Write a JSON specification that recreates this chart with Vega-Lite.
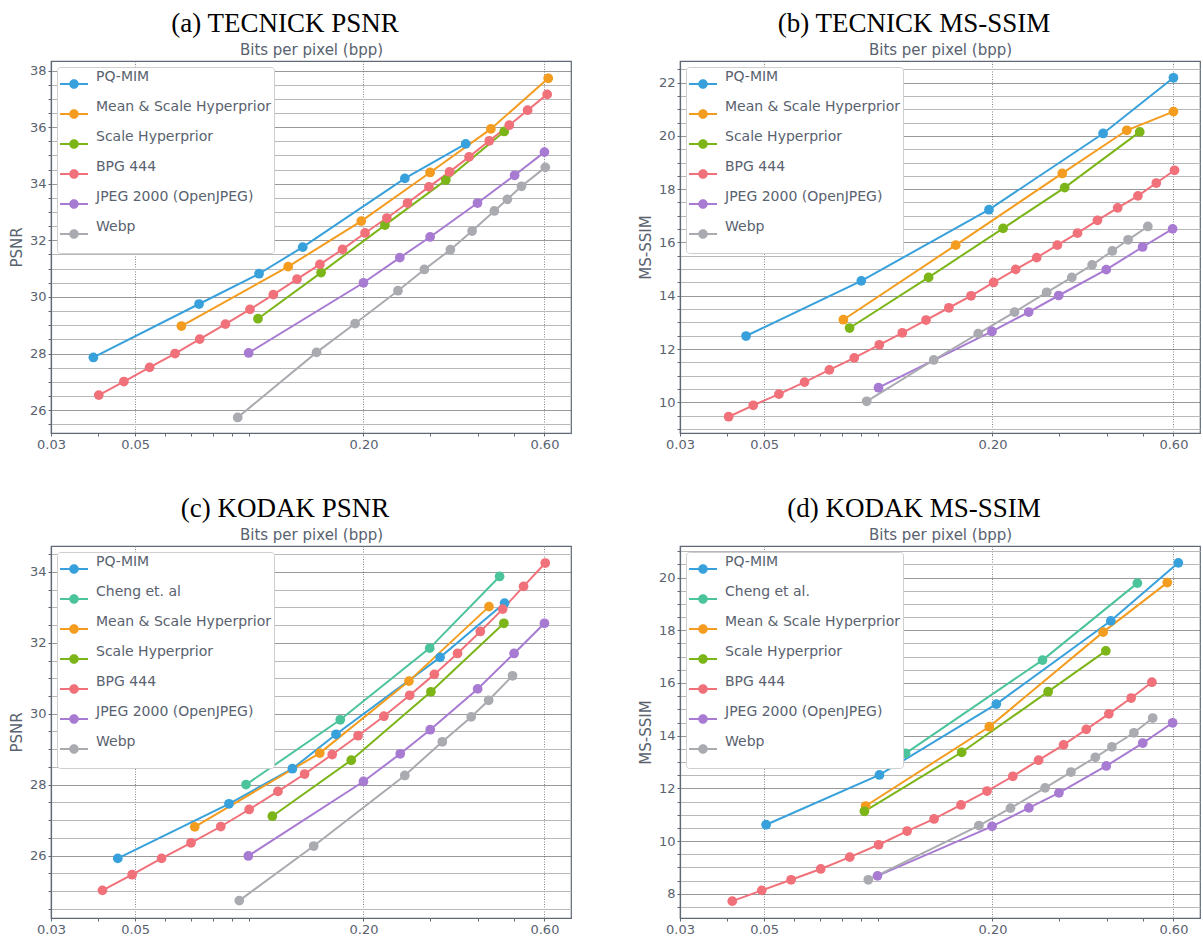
{
"$schema": "https://vega.github.io/schema/vega-lite/v6.json",
"background": "white",
"padding": {"left": 8, "top": 9, "right": 0, "bottom": 0},
"bounds": "flush",
"columns": 2,
"spacing": {"row": 113, "column": 109},
"resolve": {"scale": {"color": "independent"}, "legend": {"color": "independent"}},
"datasets": {
"a": [
{"method":"PQ-MIM","bpp":0.0388,"score":27.86},{"method":"PQ-MIM","bpp":0.0737,"score":29.75},{"method":"PQ-MIM","bpp":0.1061,"score":30.82},{"method":"PQ-MIM","bpp":0.1383,"score":31.76},{"method":"PQ-MIM","bpp":0.2571,"score":34.19},{"method":"PQ-MIM","bpp":0.372,"score":35.41},
{"method":"Mean & Scale Hyperprior","bpp":0.0662,"score":28.97},{"method":"Mean & Scale Hyperprior","bpp":0.1266,"score":31.07},{"method":"Mean & Scale Hyperprior","bpp":0.1973,"score":32.68},{"method":"Mean & Scale Hyperprior","bpp":0.2997,"score":34.40},{"method":"Mean & Scale Hyperprior","bpp":0.4335,"score":35.94},{"method":"Mean & Scale Hyperprior","bpp":0.614,"score":37.73},
{"method":"Scale Hyperprior","bpp":0.1054,"score":29.23},{"method":"Scale Hyperprior","bpp":0.1546,"score":30.86},{"method":"Scale Hyperprior","bpp":0.2278,"score":32.54},{"method":"Scale Hyperprior","bpp":0.3297,"score":34.13},{"method":"Scale Hyperprior","bpp":0.470,"score":35.85},
{"method":"BPG 444","bpp":0.0401,"score":26.53},{"method":"BPG 444","bpp":0.0467,"score":27.01},{"method":"BPG 444","bpp":0.0546,"score":27.51},{"method":"BPG 444","bpp":0.0637,"score":28.00},{"method":"BPG 444","bpp":0.0740,"score":28.51},{"method":"BPG 444","bpp":0.0865,"score":29.04},{"method":"BPG 444","bpp":0.1004,"score":29.56},{"method":"BPG 444","bpp":0.1157,"score":30.08},{"method":"BPG 444","bpp":0.1336,"score":30.63},{"method":"BPG 444","bpp":0.1535,"score":31.15},{"method":"BPG 444","bpp":0.1761,"score":31.68},{"method":"BPG 444","bpp":0.2019,"score":32.26},{"method":"BPG 444","bpp":0.2305,"score":32.79},{"method":"BPG 444","bpp":0.2613,"score":33.32},{"method":"BPG 444","bpp":0.2976,"score":33.89},{"method":"BPG 444","bpp":0.3372,"score":34.42},{"method":"BPG 444","bpp":0.3797,"score":34.95},{"method":"BPG 444","bpp":0.4293,"score":35.52},{"method":"BPG 444","bpp":0.4845,"score":36.07},{"method":"BPG 444","bpp":0.5417,"score":36.60},{"method":"BPG 444","bpp":0.610,"score":37.16},
{"method":"JPEG 2000 (OpenJPEG)","bpp":0.0996,"score":28.02},{"method":"JPEG 2000 (OpenJPEG)","bpp":0.200,"score":30.50},{"method":"JPEG 2000 (OpenJPEG)","bpp":0.2494,"score":31.39},{"method":"JPEG 2000 (OpenJPEG)","bpp":0.2997,"score":32.12},{"method":"JPEG 2000 (OpenJPEG)","bpp":0.3996,"score":33.32},{"method":"JPEG 2000 (OpenJPEG)","bpp":0.5007,"score":34.30},{"method":"JPEG 2000 (OpenJPEG)","bpp":0.600,"score":35.12},
{"method":"Webp","bpp":0.0932,"score":25.74},{"method":"Webp","bpp":0.1504,"score":28.04},{"method":"Webp","bpp":0.1901,"score":29.06},{"method":"Webp","bpp":0.2466,"score":30.22},{"method":"Webp","bpp":0.2894,"score":30.97},{"method":"Webp","bpp":0.339,"score":31.67},{"method":"Webp","bpp":0.3867,"score":32.33},{"method":"Webp","bpp":0.4426,"score":33.04},{"method":"Webp","bpp":0.479,"score":33.45},{"method":"Webp","bpp":0.522,"score":33.91},{"method":"Webp","bpp":0.603,"score":34.58}
],
"b": [
{"method":"PQ-MIM","bpp":0.0448,"score":12.49},{"method":"PQ-MIM","bpp":0.0902,"score":14.56},{"method":"PQ-MIM","bpp":0.1958,"score":17.23},{"method":"PQ-MIM","bpp":0.3915,"score":20.09},{"method":"PQ-MIM","bpp":0.600,"score":22.18},
{"method":"Mean & Scale Hyperprior","bpp":0.0809,"score":13.10},{"method":"Mean & Scale Hyperprior","bpp":0.160,"score":15.90},{"method":"Mean & Scale Hyperprior","bpp":0.3055,"score":18.59},{"method":"Mean & Scale Hyperprior","bpp":0.452,"score":20.21},{"method":"Mean & Scale Hyperprior","bpp":0.600,"score":20.91},
{"method":"Scale Hyperprior","bpp":0.084,"score":12.79},{"method":"Scale Hyperprior","bpp":0.1357,"score":14.69},{"method":"Scale Hyperprior","bpp":0.2133,"score":16.53},{"method":"Scale Hyperprior","bpp":0.310,"score":18.06},{"method":"Scale Hyperprior","bpp":0.489,"score":20.15},
{"method":"BPG 444","bpp":0.0403,"score":9.46},{"method":"BPG 444","bpp":0.0468,"score":9.89},{"method":"BPG 444","bpp":0.0547,"score":10.31},{"method":"BPG 444","bpp":0.0639,"score":10.76},{"method":"BPG 444","bpp":0.0743,"score":11.22},{"method":"BPG 444","bpp":0.0864,"score":11.67},{"method":"BPG 444","bpp":0.1006,"score":12.16},{"method":"BPG 444","bpp":0.1157,"score":12.61},{"method":"BPG 444","bpp":0.1336,"score":13.09},{"method":"BPG 444","bpp":0.1535,"score":13.55},{"method":"BPG 444","bpp":0.1756,"score":14.0},{"method":"BPG 444","bpp":0.2013,"score":14.5},{"method":"BPG 444","bpp":0.2303,"score":14.99},{"method":"BPG 444","bpp":0.2616,"score":15.43},{"method":"BPG 444","bpp":0.2965,"score":15.9},{"method":"BPG 444","bpp":0.3351,"score":16.35},{"method":"BPG 444","bpp":0.3782,"score":16.83},{"method":"BPG 444","bpp":0.4277,"score":17.3},{"method":"BPG 444","bpp":0.4836,"score":17.75},{"method":"BPG 444","bpp":0.5407,"score":18.23},{"method":"BPG 444","bpp":0.604,"score":18.71},
{"method":"JPEG 2000 (OpenJPEG)","bpp":0.1001,"score":10.55},{"method":"JPEG 2000 (OpenJPEG)","bpp":0.1994,"score":12.66},{"method":"JPEG 2000 (OpenJPEG)","bpp":0.2492,"score":13.39},{"method":"JPEG 2000 (OpenJPEG)","bpp":0.299,"score":14.01},{"method":"JPEG 2000 (OpenJPEG)","bpp":0.399,"score":14.98},{"method":"JPEG 2000 (OpenJPEG)","bpp":0.4975,"score":15.83},{"method":"JPEG 2000 (OpenJPEG)","bpp":0.597,"score":16.51},
{"method":"Webp","bpp":0.0932,"score":10.04},{"method":"Webp","bpp":0.140,"score":11.59},{"method":"Webp","bpp":0.1834,"score":12.58},{"method":"Webp","bpp":0.2287,"score":13.39},{"method":"Webp","bpp":0.2779,"score":14.13},{"method":"Webp","bpp":0.3238,"score":14.69},{"method":"Webp","bpp":0.3663,"score":15.16},{"method":"Webp","bpp":0.414,"score":15.68},{"method":"Webp","bpp":0.4555,"score":16.1},{"method":"Webp","bpp":0.5136,"score":16.6}
],
"c": [
{"method":"PQ-MIM","bpp":0.045,"score":25.92},{"method":"PQ-MIM","bpp":0.0884,"score":27.46},{"method":"PQ-MIM","bpp":0.1299,"score":28.45},{"method":"PQ-MIM","bpp":0.1693,"score":29.42},{"method":"PQ-MIM","bpp":0.3184,"score":31.59},{"method":"PQ-MIM","bpp":0.471,"score":33.12},
{"method":"Cheng et. al","bpp":0.098,"score":28.0},{"method":"Cheng et. al","bpp":0.1737,"score":29.83},{"method":"Cheng et. al","bpp":0.299,"score":31.85},{"method":"Cheng et. al","bpp":0.457,"score":33.87},
{"method":"Mean & Scale Hyperprior","bpp":0.0718,"score":26.81},{"method":"Mean & Scale Hyperprior","bpp":0.1534,"score":28.89},{"method":"Mean & Scale Hyperprior","bpp":0.2636,"score":30.92},{"method":"Mean & Scale Hyperprior","bpp":0.4285,"score":33.02},
{"method":"Scale Hyperprior","bpp":0.115,"score":27.11},{"method":"Scale Hyperprior","bpp":0.1857,"score":28.69},{"method":"Scale Hyperprior","bpp":0.3012,"score":30.62},{"method":"Scale Hyperprior","bpp":0.469,"score":32.55},
{"method":"BPG 444","bpp":0.041,"score":25.02},{"method":"BPG 444","bpp":0.0491,"score":25.46},{"method":"BPG 444","bpp":0.0587,"score":25.92},{"method":"BPG 444","bpp":0.0702,"score":26.36},{"method":"BPG 444","bpp":0.0841,"score":26.82},{"method":"BPG 444","bpp":0.0999,"score":27.30},{"method":"BPG 444","bpp":0.119,"score":27.81},{"method":"BPG 444","bpp":0.1399,"score":28.30},{"method":"BPG 444","bpp":0.1654,"score":28.85},{"method":"BPG 444","bpp":0.1935,"score":29.38},{"method":"BPG 444","bpp":0.2264,"score":29.93},{"method":"BPG 444","bpp":0.2648,"score":30.52},{"method":"BPG 444","bpp":0.3075,"score":31.11},{"method":"BPG 444","bpp":0.354,"score":31.70},{"method":"BPG 444","bpp":0.4065,"score":32.32},{"method":"BPG 444","bpp":0.4657,"score":32.95},{"method":"BPG 444","bpp":0.5286,"score":33.59},{"method":"BPG 444","bpp":0.603,"score":34.25},
{"method":"JPEG 2000 (OpenJPEG)","bpp":0.0994,"score":25.99},{"method":"JPEG 2000 (OpenJPEG)","bpp":0.2,"score":28.09},{"method":"JPEG 2000 (OpenJPEG)","bpp":0.25,"score":28.87},{"method":"JPEG 2000 (OpenJPEG)","bpp":0.2999,"score":29.55},{"method":"JPEG 2000 (OpenJPEG)","bpp":0.4,"score":30.70},{"method":"JPEG 2000 (OpenJPEG)","bpp":0.499,"score":31.70},{"method":"JPEG 2000 (OpenJPEG)","bpp":0.6,"score":32.55},
{"method":"Webp","bpp":0.0941,"score":24.73},{"method":"Webp","bpp":0.1478,"score":26.27},{"method":"Webp","bpp":0.257,"score":28.26},{"method":"Webp","bpp":0.3228,"score":29.21},{"method":"Webp","bpp":0.3846,"score":29.91},{"method":"Webp","bpp":0.4276,"score":30.38},{"method":"Webp","bpp":0.4943,"score":31.07}
],
"d": [
{"method":"PQ-MIM","bpp":0.0506,"score":10.62},{"method":"PQ-MIM","bpp":0.1007,"score":12.51},{"method":"PQ-MIM","bpp":0.2047,"score":15.2},{"method":"PQ-MIM","bpp":0.4103,"score":18.36},{"method":"PQ-MIM","bpp":0.618,"score":20.56},
{"method":"Cheng et al.","bpp":0.118,"score":13.33},{"method":"Cheng et al.","bpp":0.271,"score":16.87},{"method":"Cheng et al.","bpp":0.482,"score":19.79},
{"method":"Mean & Scale Hyperprior","bpp":0.0926,"score":11.33},{"method":"Mean & Scale Hyperprior","bpp":0.1962,"score":14.34},{"method":"Mean & Scale Hyperprior","bpp":0.3915,"score":17.93},{"method":"Mean & Scale Hyperprior","bpp":0.578,"score":19.81},
{"method":"Scale Hyperprior","bpp":0.0919,"score":11.13},{"method":"Scale Hyperprior","bpp":0.1659,"score":13.37},{"method":"Scale Hyperprior","bpp":0.2804,"score":15.67},{"method":"Scale Hyperprior","bpp":0.398,"score":17.22},
{"method":"BPG 444","bpp":0.0412,"score":7.72},{"method":"BPG 444","bpp":0.0493,"score":8.13},{"method":"BPG 444","bpp":0.0589,"score":8.53},{"method":"BPG 444","bpp":0.0705,"score":8.94},{"method":"BPG 444","bpp":0.0841,"score":9.39},{"method":"BPG 444","bpp":0.1002,"score":9.86},{"method":"BPG 444","bpp":0.1191,"score":10.38},{"method":"BPG 444","bpp":0.1403,"score":10.84},{"method":"BPG 444","bpp":0.1652,"score":11.37},{"method":"BPG 444","bpp":0.1935,"score":11.9},{"method":"BPG 444","bpp":0.2263,"score":12.46},{"method":"BPG 444","bpp":0.2646,"score":13.07},{"method":"BPG 444","bpp":0.3079,"score":13.65},{"method":"BPG 444","bpp":0.3534,"score":14.24},{"method":"BPG 444","bpp":0.4054,"score":14.83},{"method":"BPG 444","bpp":0.4642,"score":15.43},{"method":"BPG 444","bpp":0.5265,"score":16.03},
{"method":"JPEG 2000 (OpenJPEG)","bpp":0.0995,"score":8.68},{"method":"JPEG 2000 (OpenJPEG)","bpp":0.1995,"score":10.56},{"method":"JPEG 2000 (OpenJPEG)","bpp":0.2495,"score":11.26},{"method":"JPEG 2000 (OpenJPEG)","bpp":0.2994,"score":11.83},{"method":"JPEG 2000 (OpenJPEG)","bpp":0.399,"score":12.85},{"method":"JPEG 2000 (OpenJPEG)","bpp":0.498,"score":13.72},{"method":"JPEG 2000 (OpenJPEG)","bpp":0.597,"score":14.49},
{"method":"Webp","bpp":0.0941,"score":8.53},{"method":"Webp","bpp":0.1842,"score":10.59},{"method":"Webp","bpp":0.2231,"score":11.25},{"method":"Webp","bpp":0.2753,"score":12.02},{"method":"Webp","bpp":0.322,"score":12.62},{"method":"Webp","bpp":0.3735,"score":13.18},{"method":"Webp","bpp":0.413,"score":13.58},{"method":"Webp","bpp":0.472,"score":14.11},{"method":"Webp","bpp":0.529,"score":14.67}
]
},
"concat": [
{
"width": 520, "height": 372,
"title": {"text": "(a) TECNICK PSNR"},
"data": {"name": "a"},
"encoding": {
"x": {"field": "bpp", "type": "quantitative", "scale": {"type": "log", "domain": [0.03, 0.705], "nice": false},
 "axis": {"title": "Bits per pixel (bpp)", "titleY": -379, "titleBaseline": "alphabetic", "values": [0.03,0.04,0.05,0.06,0.07,0.08,0.09,0.1,0.2,0.3,0.4,0.5,0.6], "labelExpr": "indexof([0.03,0.05,0.2,0.6], datum.value) >= 0 ? format(datum.value, '.2f') : ''", "gridOpacity": {"condition": {"test": "indexof([0.05,0.2,0.6], datum.value) >= 0", "value": 1}, "value": 0}, "gridDash": [1,1.5], "gridColor": "#7a7a7a", "gridWidth": 0.9, "labelFlush": false, "labelOverlap": false}},
"y": {"field": "score", "type": "quantitative", "scale": {"domain": [25.19, 38.34], "nice": false, "zero": false},
 "axis": {"title": "PSNR", "values": [25.5,26,26.5,27,27.5,28,28.5,29,29.5,30,30.5,31,31.5,32,32.5,33,33.5,34,34.5,35,35.5,36,36.5,37,37.5,38], "labelExpr": "datum.value % 2 == 0 ? format(datum.value, 'd') : ''", "gridColor": {"condition": {"test": "datum.value % 2 == 0", "value": "#333333"}, "value": "#b8b8b8"}, "gridDash": {"condition": {"test": "datum.value % 2 == 0", "value": [1,1]}, "value": []}, "gridWidth": {"condition": {"test": "datum.value % 2 == 0", "value": 1}, "value": 1.2}, "labelFlush": false, "labelOverlap": false}}
},
"layer": [
{"mark": {"type": "line", "strokeWidth": 2}, "encoding": {"color": {"field": "method", "type": "nominal", "scale": {"domain": ["PQ-MIM","Mean & Scale Hyperprior","Scale Hyperprior","BPG 444","JPEG 2000 (OpenJPEG)","Webp"], "range": ["#38a1db","#f39c1f","#7cb518","#f0717a","#a87bd3","#a9abb0"]}, "legend": {"title": null, "orient": "top-left", "symbolType": "M-1,-0.07L-0.3,-0.07L-0.3,0.07L-1,0.07ZM0.3,-0.07L1,-0.07L1,0.07L0.3,0.07ZM-0.34,0A0.34,0.34,0,1,1,0.34,0A0.34,0.34,0,1,1,-0.34,0ZM-0.01,1.1L0.01,1.1Z"}}}},
{"mark": {"type": "point", "filled": true, "size": 95, "opacity": 1}, "encoding": {"color": {"field": "method", "type": "nominal"}}}
]
},
{
"width": 520, "height": 372,
"title": {"text": "(b) TECNICK MS-SSIM"},
"data": {"name": "b"},
"encoding": {
"x": {"field": "bpp", "type": "quantitative", "scale": {"type": "log", "domain": [0.03, 0.705], "nice": false},
 "axis": {"title": "Bits per pixel (bpp)", "titleY": -379, "titleBaseline": "alphabetic", "values": [0.03,0.04,0.05,0.06,0.07,0.08,0.09,0.1,0.2,0.3,0.4,0.5,0.6], "labelExpr": "indexof([0.03,0.05,0.2,0.6], datum.value) >= 0 ? format(datum.value, '.2f') : ''", "gridOpacity": {"condition": {"test": "indexof([0.05,0.2,0.6], datum.value) >= 0", "value": 1}, "value": 0}, "gridDash": [1,1.5], "gridColor": "#7a7a7a", "gridWidth": 0.9, "labelFlush": false, "labelOverlap": false}},
"y": {"field": "score", "type": "quantitative", "scale": {"domain": [8.85, 22.81], "nice": false, "zero": false},
 "axis": {"title": "MS-SSIM", "values": [9,9.5,10,10.5,11,11.5,12,12.5,13,13.5,14,14.5,15,15.5,16,16.5,17,17.5,18,18.5,19,19.5,20,20.5,21,21.5,22,22.5], "labelExpr": "datum.value % 2 == 0 ? format(datum.value, 'd') : ''", "gridColor": {"condition": {"test": "datum.value % 2 == 0", "value": "#333333"}, "value": "#b8b8b8"}, "gridDash": {"condition": {"test": "datum.value % 2 == 0", "value": [1,1]}, "value": []}, "gridWidth": {"condition": {"test": "datum.value % 2 == 0", "value": 1}, "value": 1.2}, "labelFlush": false, "labelOverlap": false}}
},
"layer": [
{"mark": {"type": "line", "strokeWidth": 2}, "encoding": {"color": {"field": "method", "type": "nominal", "scale": {"domain": ["PQ-MIM","Mean & Scale Hyperprior","Scale Hyperprior","BPG 444","JPEG 2000 (OpenJPEG)","Webp"], "range": ["#38a1db","#f39c1f","#7cb518","#f0717a","#a87bd3","#a9abb0"]}, "legend": {"title": null, "orient": "top-left", "symbolType": "M-1,-0.07L-0.3,-0.07L-0.3,0.07L-1,0.07ZM0.3,-0.07L1,-0.07L1,0.07L0.3,0.07ZM-0.34,0A0.34,0.34,0,1,1,0.34,0A0.34,0.34,0,1,1,-0.34,0ZM-0.01,1.1L0.01,1.1Z"}}}},
{"mark": {"type": "point", "filled": true, "size": 95, "opacity": 1}, "encoding": {"color": {"field": "method", "type": "nominal"}}}
]
},
{
"width": 520, "height": 372,
"title": {"text": "(c) KODAK PSNR"},
"data": {"name": "c"},
"encoding": {
"x": {"field": "bpp", "type": "quantitative", "scale": {"type": "log", "domain": [0.03, 0.705], "nice": false},
 "axis": {"title": "Bits per pixel (bpp)", "titleY": -379, "titleBaseline": "alphabetic", "values": [0.03,0.04,0.05,0.06,0.07,0.08,0.09,0.1,0.2,0.3,0.4,0.5,0.6], "labelExpr": "indexof([0.03,0.05,0.2,0.6], datum.value) >= 0 ? format(datum.value, '.2f') : ''", "gridOpacity": {"condition": {"test": "indexof([0.05,0.2,0.6], datum.value) >= 0", "value": 1}, "value": 0}, "gridDash": [1,1.5], "gridColor": "#7a7a7a", "gridWidth": 0.9, "labelFlush": false, "labelOverlap": false}},
"y": {"field": "score", "type": "quantitative", "scale": {"domain": [24.24, 34.73], "nice": false, "zero": false},
 "axis": {"title": "PSNR", "values": [24.5,25,25.5,26,26.5,27,27.5,28,28.5,29,29.5,30,30.5,31,31.5,32,32.5,33,33.5,34,34.5], "labelExpr": "datum.value % 2 == 0 ? format(datum.value, 'd') : ''", "gridColor": {"condition": {"test": "datum.value % 2 == 0", "value": "#333333"}, "value": "#b8b8b8"}, "gridDash": {"condition": {"test": "datum.value % 2 == 0", "value": [1,1]}, "value": []}, "gridWidth": {"condition": {"test": "datum.value % 2 == 0", "value": 1}, "value": 1.2}, "labelFlush": false, "labelOverlap": false}}
},
"layer": [
{"mark": {"type": "line", "strokeWidth": 2}, "encoding": {"color": {"field": "method", "type": "nominal", "scale": {"domain": ["PQ-MIM","Cheng et. al","Mean & Scale Hyperprior","Scale Hyperprior","BPG 444","JPEG 2000 (OpenJPEG)","Webp"], "range": ["#38a1db","#4cc49b","#f39c1f","#7cb518","#f0717a","#a87bd3","#a9abb0"]}, "legend": {"title": null, "orient": "top-left", "symbolType": "M-1,-0.07L-0.3,-0.07L-0.3,0.07L-1,0.07ZM0.3,-0.07L1,-0.07L1,0.07L0.3,0.07ZM-0.34,0A0.34,0.34,0,1,1,0.34,0A0.34,0.34,0,1,1,-0.34,0ZM-0.01,1.1L0.01,1.1Z"}}}},
{"mark": {"type": "point", "filled": true, "size": 95, "opacity": 1}, "encoding": {"color": {"field": "method", "type": "nominal"}}}
]
},
{
"width": 520, "height": 372,
"title": {"text": "(d) KODAK MS-SSIM"},
"data": {"name": "d"},
"encoding": {
"x": {"field": "bpp", "type": "quantitative", "scale": {"type": "log", "domain": [0.03, 0.705], "nice": false},
 "axis": {"title": "Bits per pixel (bpp)", "titleY": -379, "titleBaseline": "alphabetic", "values": [0.03,0.04,0.05,0.06,0.07,0.08,0.09,0.1,0.2,0.3,0.4,0.5,0.6], "labelExpr": "indexof([0.03,0.05,0.2,0.6], datum.value) >= 0 ? format(datum.value, '.2f') : ''", "gridOpacity": {"condition": {"test": "indexof([0.05,0.2,0.6], datum.value) >= 0", "value": 1}, "value": 0}, "gridDash": [1,1.5], "gridColor": "#7a7a7a", "gridWidth": 0.9, "labelFlush": false, "labelOverlap": false}},
"y": {"field": "score", "type": "quantitative", "scale": {"domain": [7.08, 21.2], "nice": false, "zero": false},
 "axis": {"title": "MS-SSIM", "values": [7.5,8,8.5,9,9.5,10,10.5,11,11.5,12,12.5,13,13.5,14,14.5,15,15.5,16,16.5,17,17.5,18,18.5,19,19.5,20,20.5,21], "labelExpr": "datum.value % 2 == 0 ? format(datum.value, 'd') : ''", "gridColor": {"condition": {"test": "datum.value % 2 == 0", "value": "#333333"}, "value": "#b8b8b8"}, "gridDash": {"condition": {"test": "datum.value % 2 == 0", "value": [1,1]}, "value": []}, "gridWidth": {"condition": {"test": "datum.value % 2 == 0", "value": 1}, "value": 1.2}, "labelFlush": false, "labelOverlap": false}}
},
"layer": [
{"mark": {"type": "line", "strokeWidth": 2}, "encoding": {"color": {"field": "method", "type": "nominal", "scale": {"domain": ["PQ-MIM","Cheng et al.","Mean & Scale Hyperprior","Scale Hyperprior","BPG 444","JPEG 2000 (OpenJPEG)","Webp"], "range": ["#38a1db","#4cc49b","#f39c1f","#7cb518","#f0717a","#a87bd3","#a9abb0"]}, "legend": {"title": null, "orient": "top-left", "symbolType": "M-1,-0.07L-0.3,-0.07L-0.3,0.07L-1,0.07ZM0.3,-0.07L1,-0.07L1,0.07L0.3,0.07ZM-0.34,0A0.34,0.34,0,1,1,0.34,0A0.34,0.34,0,1,1,-0.34,0ZM-0.01,1.1L0.01,1.1Z"}}}},
{"mark": {"type": "point", "filled": true, "size": 95, "opacity": 1}, "encoding": {"color": {"field": "method", "type": "nominal"}}}
]
}
],
"config": {
"font": "DejaVu Sans",
"view": {"stroke": "#5f6875", "strokeWidth": 1.2},
"axis": {"domainColor": "#5f6875", "domainWidth": 1.2, "tickColor": "#5f6875", "tickSize": 3, "labelPadding": 2, "labelFont": "DejaVu Sans", "labelFontSize": 13, "labelColor": "#59626f", "titleFont": "DejaVu Sans", "titleFontSize": 15, "titleFontWeight": "normal", "titleColor": "#59626f", "titlePadding": 5, "grid": true},
"legend": {"orient": "top-left", "offset": 6, "fillColor": "#ffffff", "strokeColor": "#cfcfcf", "cornerRadius": 3, "padding": 3, "labelFont": "DejaVu Sans", "labelFontSize": 14, "labelColor": "#59626f", "labelBaseline": "bottom", "labelOffset": 8, "labelLimit": 400, "symbolSize": 784, "symbolStrokeWidth": 0, "rowPadding": -1.5, "symbolOpacity": 1},
"title": {"font": "Liberation Serif", "fontSize": 27, "fontWeight": "normal", "color": "#000000", "anchor": "middle", "dx": -26, "offset": 4}
}
}
